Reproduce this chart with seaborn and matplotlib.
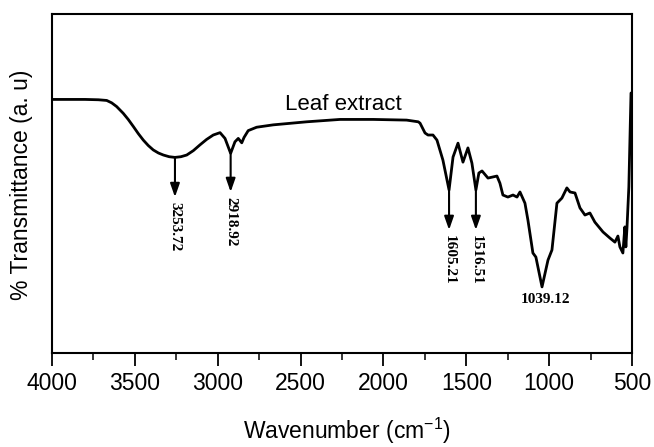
import numpy as np
import pandas as pd
import matplotlib
matplotlib.use("Agg")
import matplotlib.pyplot as plt
from matplotlib.ticker import MultipleLocator
import seaborn as sns

# FTIR spectrum of the leaf extract (arbitrary units)
wavenumber = [4000, 3900, 3800, 3720, 3670, 3640, 3610, 3570, 3540, 3509,
              3479, 3449, 3419, 3389, 3358, 3328, 3293, 3258, 3222, 3187,
              3147, 3107, 3067, 3027, 2986, 2956, 2922, 2896, 2876,
              2855, 2841, 2816, 2765, 2665, 2463, 2262, 2061, 1860, 1790,
              1779, 1749, 1731, 1701, 1677, 1641, 1604, 1580, 1550, 1520,
              1490, 1466, 1442, 1424, 1405, 1369, 1315, 1297, 1279, 1249,
              1218, 1194, 1176, 1146, 1128, 1098, 1080, 1043, 1007, 983,
              953, 923, 893, 874, 844, 814, 784, 754, 724, 675,
              633, 603, 585, 573, 555, 543, 537, 530, 519, 506]
transmittance = [74.8, 74.8, 74.8, 74.7, 74.5, 73.8, 72.7, 70.7, 68.9, 66.8,
                 64.7, 62.8, 61.2, 59.9, 59.0, 58.4, 57.9, 57.7, 57.9, 58.4,
                 59.7, 61.4, 63.0, 64.3, 65.0, 63.3, 58.9, 62.3, 63.3,
                 62.0, 63.6, 65.6, 66.6, 67.3, 68.2, 68.9, 68.9, 68.7, 68.2,
                 67.8, 64.9, 64.3, 64.3, 62.8, 56.9, 48.1, 57.8, 61.9, 56.3,
                 60.5, 56.0, 48.1, 53.1, 53.7, 51.6, 52.2, 50.1, 46.6, 46.0,
                 46.6, 46.0, 47.5, 44.2, 39.2, 29.5, 28.3, 19.5, 27.4, 30.4,
                 44.2, 45.7, 48.7, 47.5, 47.2, 42.8, 40.7, 41.3, 38.6, 35.7,
                 33.9, 32.7, 34.5, 31.3, 29.5, 37.2, 31.3, 37.2, 49.0, 76.7]

# marked peaks: where the arrow sits, its tip, and the printed value
peak_pos = [3258, 2922, 1604, 1442]
peak_y = [57.7, 58.9, 48.1, 48.1]
arrow_tip = [46.0, 47.5, 36.3, 36.3]
peak_labels = ["3253.72", "2918.92", "1605.21", "1516.51"]

df = pd.DataFrame({"wavenumber": wavenumber, "transmittance": transmittance})

sns.set_style("ticks")
plt.rcParams["font.family"] = ["Liberation Sans", "DejaVu Sans"]
plt.rcParams["text.color"] = "black"
plt.rcParams["axes.labelcolor"] = "black"
plt.rcParams["mathtext.fontset"] = "custom"
plt.rcParams["mathtext.rm"] = "Liberation Sans"

fig = plt.figure(figsize=(6.54, 4.47), dpi=100)
ax = fig.add_axes([52 / 654, 1 - 353 / 447, 580 / 654, 339 / 447])

sns.lineplot(data=df, x="wavenumber", y="transmittance", color="black",
             linewidth=2, ax=ax, sort=False)

for x, y0, y1, lab in zip(peak_pos, peak_y, arrow_tip, peak_labels):
    ax.annotate("", xy=(x, y1), xytext=(x, y0),
                arrowprops=dict(arrowstyle="-|>,head_length=0.8,head_width=0.28",
                                color="black", lw=1.5, shrinkA=0, shrinkB=0))
    ax.text(x, y1 - 1.5, lab, rotation=270, ha="center", va="top",
            fontsize=11, fontweight="bold", family="Liberation Serif")

ax.text(1025, 15.9, "1039.12", ha="center", va="center",
        fontsize=11, fontweight="bold", family="Liberation Serif")
ax.text(2241, 71.7, "Leaf extract", ha="center", va="baseline", fontsize=16)

ax.set_xlim(4000, 500)
ax.set_ylim(0, 100)
ax.xaxis.set_major_locator(MultipleLocator(500))
ax.xaxis.set_minor_locator(MultipleLocator(250))
ax.set_yticks([])
ax.tick_params(axis="x", which="major", direction="out", length=9, width=1.3,
               labelsize=16.5, pad=5, colors="black")
ax.tick_params(axis="x", which="minor", direction="out", length=5, width=1.3)

for s in ax.spines.values():
    s.set_linewidth(1.5)
    s.set_color("black")

ax.set_xlabel("Wavenumber (cm$^{\\mathrm{-1}}$)", fontsize=16.5)
ax.set_ylabel("% Transmittance (a. u)", fontsize=16.5)
ax.xaxis.set_label_coords(0.509, -0.23)
ax.yaxis.set_label_coords(-0.052, 0.496)
ax.xaxis.label.set_va("center")
ax.yaxis.label.set_va("center")

fig.savefig("out.png", dpi=100)
